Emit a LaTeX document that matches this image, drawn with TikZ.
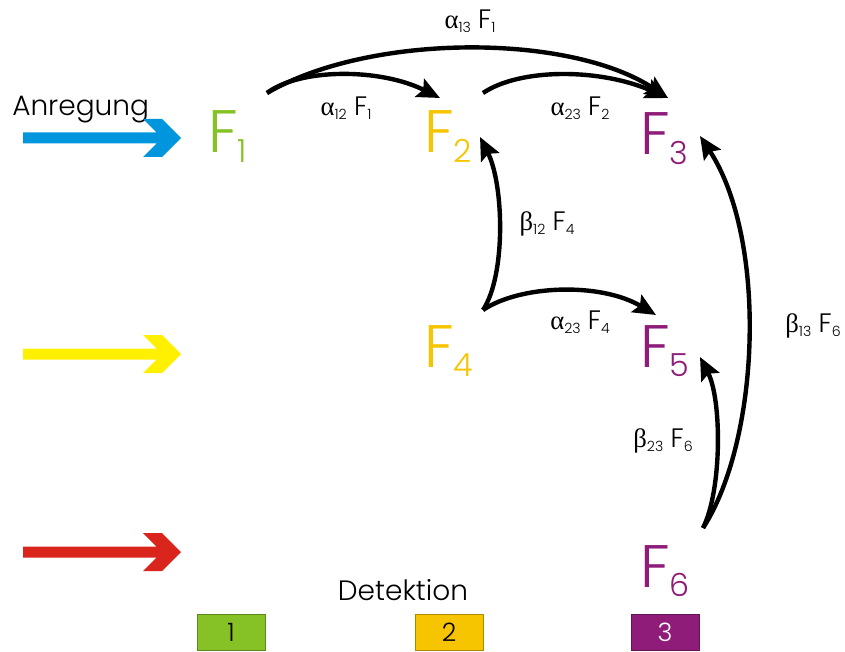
\documentclass[tikz,border=0pt]{standalone}
\usepackage{fontspec}
\setmainfont{Poppins}[UprightFont={* Light}]
\newfontfamily\greekfont{Liberation Serif}
\usepackage{xcolor}
\usetikzlibrary{arrows.meta,positioning}

\definecolor{fgreen}{RGB}{134,194,38}
\definecolor{fyellow}{RGB}{247,196,0}
\definecolor{fpurple}{RGB}{142,28,120}
\definecolor{pumpblue}{RGB}{0,150,222}
\definecolor{pumpyellow}{RGB}{255,240,0}
\definecolor{pumpred}{RGB}{218,37,29}

% lowered small index
\newcommand{\ix}[1]{\raisebox{-0.16em}{\scalebox{0.53}{#1}}}
% rate label, e.g. alpha_13 F_1
\newcommand{\rate}[3]{{\greekfont #1}\ix{#2} F\ix{#3}}

\begin{document}
\begin{tikzpicture}[
    x=0.75pt, y=-0.75pt,
    flabel/.style={anchor=base west, inner sep=0pt, font=\fontsize{45}{50}\selectfont},
    lbl/.style={inner sep=1pt, font=\fontsize{20}{24}\selectfont},
    detbox/.style={rectangle, draw, line width=0.6pt, minimum width=51pt, minimum height=27pt, inner sep=0pt, font=\fontsize{19}{22}\selectfont},
    flow/.style={-{Stealth[length=17pt,width=15pt,inset=3pt]}, line width=3.3pt}
]
\useasboundingbox (0,0) rectangle (845,652);

% Anregung
\node[anchor=base west, inner sep=0pt, font=\fontsize{21}{24}\selectfont] (exc) at (12,116) {Anregung};
\foreach \col/\yy in {pumpblue/138, pumpyellow/354, pumpred/552}
  \fill[\col] (23,\yy-5.5) -- (156.5,\yy-5.5) -- (143,\yy-19) -- (162,\yy-19) -- (181,\yy)
    -- (162,\yy+19) -- (143,\yy+19) -- (156.5,\yy+5.5) -- (23,\yy+5.5) -- cycle;

% levels
\node[flabel, text=fgreen] (F1) at (208,153) {F\ix{1}};
\node[flabel, text=fyellow] (F2) at (424,153) {F\ix{2}};
\node[flabel, text=fpurple] (F3) at (640,155) {F\ix{3}};
\node[flabel, text=fyellow] (F4) at (424,367) {F\ix{4}};
\node[flabel, text=fpurple] (F5) at (640,367) {F\ix{5}};
\node[flabel, text=fpurple] (F6) at (640,587) {F\ix{6}};

% arrow ends
\coordinate (s1) at (267,93);
\coordinate (s2) at (483,93);
\coordinate (s4) at (483,310);
\coordinate (s6) at (703,528);
\coordinate (t2) at (440,98);
\coordinate (t3) at (668,98);
\coordinate (t2b) at (480,137);
\coordinate (t5) at (656,315);
\coordinate (t5b) at (700,357);
\coordinate (t3b) at (700,136);

% transfers
\draw[flow] (s1) .. controls (300,68) and (380,68) .. (t2);
\draw[flow] (s1) .. controls (370,33) and (570,33) .. (t3);
\draw[flow] (s2) .. controls (520,68) and (600,68) .. (t3);
\draw[flow] (s4) .. controls (506,275) and (504,185) .. (t2b);
\draw[flow] (s4) .. controls (520,285) and (600,282) .. (t5);
\draw[flow] (s6) .. controls (722,490) and (722,400) .. (t5b);
\draw[flow] (s6) .. controls (760,440) and (768,240) .. (t3b);

% rate labels
\node[lbl] (a13) at (470,21) {\rate{α}{13}{1}};
\node[lbl] (a12) at (346,108) {\rate{α}{12}{1}};
\node[lbl] (a23) at (580,108) {\rate{α}{23}{2}};
\node[lbl] (b12) at (547,224) {\rate{β}{12}{4}};
\node[lbl] (a23b) at (580,322) {\rate{α}{23}{4}};
\node[lbl] (b13) at (813,326) {\rate{β}{13}{6}};
\node[lbl] (b23) at (663,441) {\rate{β}{23}{6}};

% Detektion
\node[font=\fontsize{21}{24}\selectfont, inner sep=0pt] (det) at (403,590) {Detektion};
\node[detbox, fill=fgreen, draw=fgreen!70!black] (d1) at (231,632) {1};
\node[detbox, fill=fyellow, draw=fyellow!70!black] (d2) at (449,632) {2};
\node[detbox, fill=fpurple, draw=fpurple!70!black, text=white] (d3) at (665,632) {3};

\end{tikzpicture}
\end{document}
